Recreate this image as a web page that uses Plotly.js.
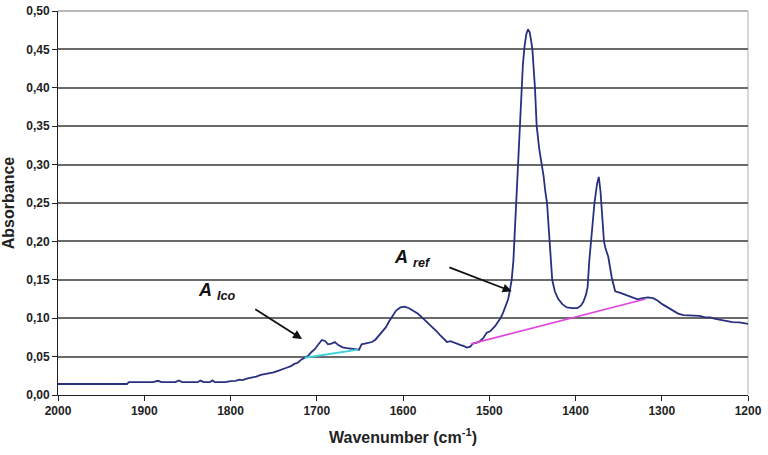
<!DOCTYPE html>
<html>
<head>
<meta charset="utf-8">
<script src="https://cdn.plot.ly/plotly-3.0.1.min.js"></script>
<style>
  html, body { margin: 0; padding: 0; background: #fff; }
  #plot { width: 768px; height: 455px; }
</style>
</head>
<body>
<div id="plot"></div>
<script>
// IR spectrum (wavenumber in cm-1, absorbance)
var wavenumber = [
  2000, 1920, 1918, 1890, 1884, 1880, 1864, 1860, 1856, 1838, 1835, 1831, 1824, 1821, 1818, 1806,
  1800, 1794, 1790, 1786, 1780, 1775, 1770, 1765, 1760, 1755, 1750, 1745, 1740, 1735, 1730, 1726,
  1722, 1718, 1714, 1710, 1706, 1702, 1698, 1694, 1690, 1687, 1683, 1679, 1675, 1670, 1665, 1660,
  1655, 1651, 1648, 1644, 1640, 1636, 1632, 1628, 1624, 1620, 1616, 1612, 1608, 1603, 1598, 1593,
  1588, 1583, 1578, 1573, 1569, 1565, 1561, 1557, 1553, 1549, 1545, 1541, 1537, 1533, 1530, 1526,
  1522, 1519, 1515, 1511, 1507, 1503, 1499, 1496, 1493, 1490, 1487, 1484, 1481, 1478, 1476, 1474,
  1472, 1471, 1469, 1467, 1465, 1463, 1461, 1459, 1457, 1455, 1453, 1451, 1450, 1447, 1445, 1442,
  1439, 1437, 1435, 1433, 1430, 1427, 1424, 1420, 1415, 1410, 1404, 1398, 1394, 1391, 1388, 1386,
  1384, 1381, 1378, 1375, 1373, 1371, 1369, 1367, 1365, 1362, 1358, 1354, 1348, 1340, 1333, 1328,
  1322, 1316, 1310, 1305, 1299, 1293, 1287, 1281, 1275, 1268, 1262, 1256, 1250, 1244, 1238, 1232,
  1225, 1218, 1210, 1204, 1199
];
var absorbance = [
  0.0143, 0.0143, 0.0167, 0.0167, 0.0185, 0.0167, 0.0167, 0.0190, 0.0167, 0.0167, 0.0188, 0.0167, 0.0167, 0.0190, 0.0167, 0.0167,
  0.0180, 0.0185, 0.0200, 0.0195, 0.0215, 0.0225, 0.0240, 0.0262, 0.0270, 0.0285, 0.0295, 0.0315, 0.0330, 0.0355, 0.0375, 0.0405,
  0.0420, 0.0460, 0.0485, 0.0510, 0.0560, 0.0600, 0.0660, 0.0716, 0.0700, 0.0660, 0.0670, 0.0690, 0.0650, 0.0620, 0.0610, 0.0600,
  0.0595, 0.0590, 0.0660, 0.0670, 0.0680, 0.0690, 0.0720, 0.0770, 0.0820, 0.0880, 0.0960, 0.1040, 0.1100, 0.1140, 0.1150, 0.1130,
  0.1100, 0.1060, 0.1010, 0.0960, 0.0910, 0.0870, 0.0830, 0.0780, 0.0740, 0.0690, 0.0700, 0.0680, 0.0670, 0.0650, 0.0640, 0.0617,
  0.0630, 0.0670, 0.0680, 0.0700, 0.0740, 0.0810, 0.0830, 0.0860, 0.0900, 0.0950, 0.1000, 0.1070, 0.1150, 0.1250, 0.1370, 0.1500,
  0.1750, 0.2000, 0.2500, 0.3000, 0.3500, 0.4000, 0.4300, 0.4550, 0.4700, 0.4760, 0.4720, 0.4580, 0.4500, 0.4000, 0.3500, 0.3200,
  0.3000, 0.2850, 0.2650, 0.2500, 0.2000, 0.1500, 0.1350, 0.1250, 0.1180, 0.1140, 0.1130, 0.1130, 0.1160, 0.1210, 0.1300, 0.1400,
  0.1750, 0.2150, 0.2500, 0.2750, 0.2840, 0.2650, 0.2350, 0.2000, 0.1900, 0.1800, 0.1530, 0.1350, 0.1330, 0.1300, 0.1270, 0.1245,
  0.1260, 0.1270, 0.1260, 0.1230, 0.1180, 0.1140, 0.1090, 0.1060, 0.1040, 0.1035, 0.1040, 0.1030, 0.1010, 0.1010, 0.0990, 0.0980,
  0.0960, 0.0950, 0.0945, 0.0935, 0.0925
];

// baselines drawn under the two bands
var icoBaseX = [1714, 1652];
var icoBaseY = [0.0485, 0.0590];
var refBaseX = [1521, 1319];
var refBaseY = [0.0665, 0.1250];

var spectrum = {
  x: wavenumber,
  y: absorbance,
  mode: 'lines',
  type: 'scatter',
  line: {color: '#28307f', width: 1.8},
  hoverinfo: 'x+y'
};
var icoBase = {
  x: icoBaseX,
  y: icoBaseY,
  mode: 'lines',
  type: 'scatter',
  line: {color: '#3cd2d8', width: 1.8}
};
var refBase = {
  x: refBaseX,
  y: refBaseY,
  mode: 'lines',
  type: 'scatter',
  line: {color: '#e046e0', width: 1.8}
};

var data = [spectrum, icoBase, refBase];

var labelFont = {family: 'Liberation Sans, Arial, sans-serif', size: 18, color: '#111'};

var layout = {
  width: 768,
  height: 455,
  margin: {l: 58, r: 20, t: 11, b: 60},
  paper_bgcolor: '#fff',
  plot_bgcolor: '#fff',
  showlegend: false,
  separators: ',.',
  font: {family: 'Liberation Sans, Arial, sans-serif', color: '#222'},
  xaxis: {
    range: [2000, 1200],
    dtick: 100,
    tick0: 1200,
    showgrid: false,
    zeroline: false,
    showline: true,
    linecolor: '#222',
    linewidth: 1,
    ticks: 'outside',
    ticklen: 5,
    tickcolor: '#222',
    tickfont: {size: 12, weight: 'bold', color: '#222'},
    title: {text: 'Wavenumber (cm<sup>-1</sup>)', font: {size: 16, weight: 'bold', color: '#222'}, standoff: 14}
  },
  yaxis: {
    range: [0, 0.5],
    dtick: 0.05,
    tickformat: '.2f',
    showgrid: true,
    gridcolor: '#6a6a6a',
    gridwidth: 2,
    zeroline: false,
    showline: true,
    linecolor: '#222',
    linewidth: 1,
    ticks: 'outside',
    ticklen: 5,
    tickcolor: '#222',
    tickfont: {size: 12, weight: 'bold', color: '#222'},
    title: {text: 'Absorbance', font: {size: 16, weight: 'bold', color: '#222'}, standoff: 8}
  },
  shapes: [
    {type: 'line', xref: 'paper', yref: 'paper', x0: 0, x1: 1, y0: 1, y1: 1, line: {color: '#b8b8b8', width: 2}, layer: 'above'},
    {type: 'line', xref: 'paper', yref: 'paper', x0: 1, x1: 1, y0: 0, y1: 1, line: {color: '#b0b0b0', width: 1}, layer: 'below'}
  ],
  annotations: [
    {x: 1840, y: 0.135, xref: 'x', yref: 'y', xanchor: 'left', yanchor: 'middle', showarrow: false,
     text: '<b><i>A</i></b> <sub><b><i>Ico</i></b></sub>', font: labelFont},
    {x: 1613, y: 0.178, xref: 'x', yref: 'y', xanchor: 'left', yanchor: 'middle', showarrow: false,
     text: '<b><i>A</i></b> <sub><b><i>ref</i></b></sub>', font: labelFont},
    {x: 1717, y: 0.073, ax: 1773, ay: 0.113, xref: 'x', yref: 'y', axref: 'x', ayref: 'y',
     text: '', showarrow: true, arrowhead: 2, arrowsize: 1, arrowwidth: 1.8, arrowcolor: '#111', standoff: 0},
    {x: 1474, y: 0.135, ax: 1548, ay: 0.167, xref: 'x', yref: 'y', axref: 'x', ayref: 'y',
     text: '', showarrow: true, arrowhead: 2, arrowsize: 1, arrowwidth: 1.8, arrowcolor: '#111', standoff: 0}
  ]
};

Plotly.newPlot('plot', data, layout, {displayModeBar: false, staticPlot: true});
</script>
</body>
</html>
